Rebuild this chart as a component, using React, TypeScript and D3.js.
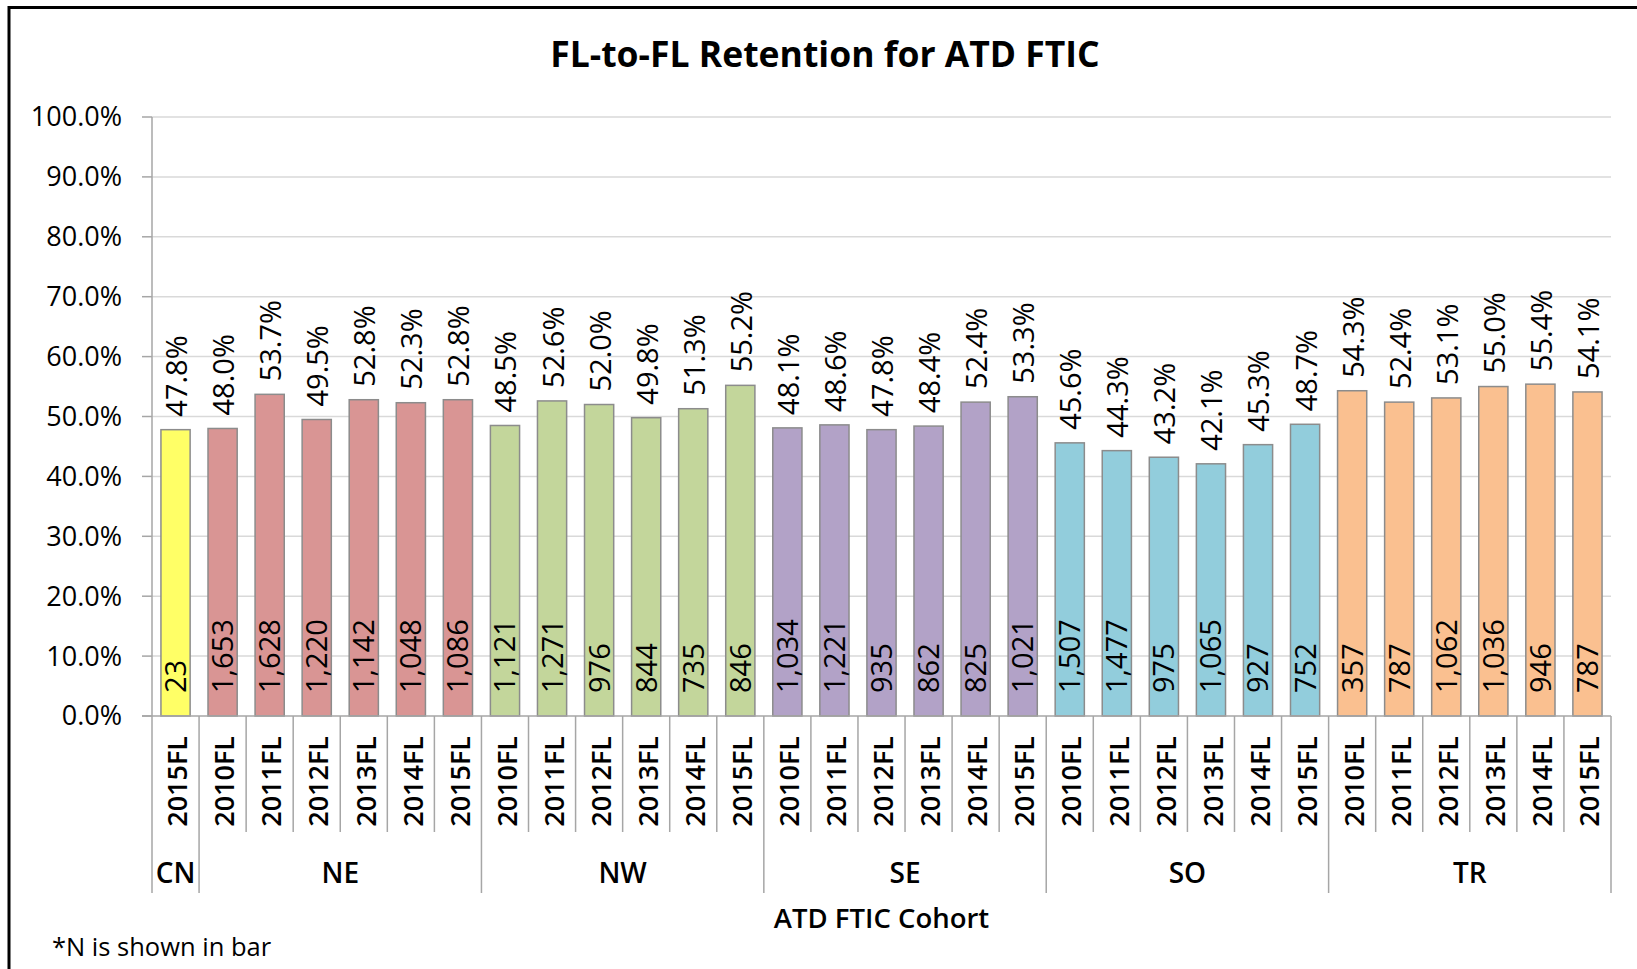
import React from "react";
import * as d3 from "d3";

// campus groups, in axis order
const groups = ["CN", "NE", "NW", "SE", "SO", "TR"];
const groupTerms: string[][] = [
    ["2015FL"],
    ["2010FL", "2011FL", "2012FL", "2013FL", "2014FL", "2015FL"],
    ["2010FL", "2011FL", "2012FL", "2013FL", "2014FL", "2015FL"],
    ["2010FL", "2011FL", "2012FL", "2013FL", "2014FL", "2015FL"],
    ["2010FL", "2011FL", "2012FL", "2013FL", "2014FL", "2015FL"],
    ["2010FL", "2011FL", "2012FL", "2013FL", "2014FL", "2015FL"],
];
// retention rate (%) per group
const retention: number[][] = [
    [47.8],
    [48.0, 53.7, 49.5, 52.8, 52.3, 52.8],
    [48.5, 52.6, 52.0, 49.8, 51.3, 55.2],
    [48.1, 48.6, 47.8, 48.4, 52.4, 53.3],
    [45.6, 44.3, 43.2, 42.1, 45.3, 48.7],
    [54.3, 52.4, 53.1, 55.0, 55.4, 54.1],
];
// cohort size N per group
const cohortN: number[][] = [
    [23],
    [1653, 1628, 1220, 1142, 1048, 1086],
    [1121, 1271, 976, 844, 735, 846],
    [1034, 1221, 935, 862, 825, 1021],
    [1507, 1477, 975, 1065, 927, 752],
    [357, 787, 1062, 1036, 946, 787],
];
const groupColors = ["#FFFF66", "#D99594", "#C3D69B", "#B2A2C7", "#92CDDC", "#FAC090"];
const yTicks = [0, 10, 20, 30, 40, 50, 60, 70, 80, 90, 100];

const FONT = "'Open Sans', 'Noto Sans', sans-serif";

export default function App() {
    const left = 152, right = 1611, top = 117, bottom = 716;

    const rows = groups.flatMap((g, gi) =>
        groupTerms[gi].map((t, ti) => ({
            group: g, gi, term: t,
            value: retention[gi][ti], n: cohortN[gi][ti],
        }))
    );

    const x = d3.scaleBand<number>()
        .domain(rows.map((_, i) => i))
        .range([left, right])
        .paddingInner(0.38)
        .paddingOuter(0.19);
    const y = d3.scaleLinear().domain([0, 100]).range([bottom, top]);
    const step = x.step();
    const catLeft = (i: number) => left + i * step;

    // group boundaries in category index
    const starts: number[] = [];
    let acc = 0;
    groups.forEach((_, gi) => { starts.push(acc); acc += groupTerms[gi].length; });

    const fmtN = d3.format(",");

    return (
        <svg width={1637} height={969} style={{position: "absolute", left: 0, top: 0, display: "block", background: "#fff"}}
             fontFamily={FONT}>
            <rect x={9} y={7.5} width={1700} height={1000} fill="none" stroke="#000" strokeWidth={3}/>
            <text x={825} y={55} textAnchor="middle" dy="0.35em" fontSize={35.5} fontWeight="bold" fill="#000">
                FL-to-FL Retention for ATD FTIC
            </text>

            {/* gridlines + y ticks */}
            {yTicks.map(t => (
                <g key={t}>
                    {t > 0 && <line x1={left} x2={right} y1={y(t)} y2={y(t)} stroke="#D9D9D9" strokeWidth={1.5}/>}
                    <line x1={142} x2={left} y1={y(t)} y2={y(t)} stroke="#A6A6A6" strokeWidth={1.5}/>
                    <text x={122} y={y(t)} dy="0.35em" textAnchor="end" fontSize={27} fill="#000">
                        {t.toFixed(1) + "%"}
                    </text>
                </g>
            ))}
            <line x1={left} x2={left} y1={top} y2={bottom} stroke="#A6A6A6" strokeWidth={1.5}/>

            {/* bars */}
            {rows.map((r, i) => {
                const bx = x(i)!;
                const cx = bx + x.bandwidth() / 2;
                return (
                    <g key={i}>
                        <rect x={bx} y={y(r.value)} width={x.bandwidth()} height={bottom - y(r.value)}
                              fill={groupColors[r.gi]} stroke="#8C8C8C" strokeWidth={1.5}/>
                        <text transform={`translate(${cx + 1},${y(r.value) - 13}) rotate(-90)`} dy="0.36em"
                              fontSize={29} fontWeight={500} fill="#000">{r.value.toFixed(1) + "%"}</text>
                        <text transform={`translate(${cx},${bottom - 23}) rotate(-90)`} dy="0.36em"
                              fontSize={29} fontWeight={500} fill="#000">{fmtN(r.n)}</text>
                        <text transform={`translate(${cx + 2},${736}) rotate(-90)`} dy="0.36em" textAnchor="end"
                              fontSize={27} fontWeight={600} fill="#000">{r.term}</text>
                    </g>
                );
            })}

            {/* x axis line */}
            <line x1={142} x2={right} y1={bottom} y2={bottom} stroke="#A6A6A6" strokeWidth={1.5}/>

            {/* category separators */}
            {rows.map((r, i) => {
                const isGroupStart = starts.includes(i);
                return (
                    <line key={"s" + i} x1={catLeft(i)} x2={catLeft(i)} y1={bottom}
                          y2={isGroupStart ? 893 : 832} stroke="#A6A6A6" strokeWidth={1.5}/>
                );
            })}
            <line x1={right} x2={right} y1={bottom} y2={893} stroke="#A6A6A6" strokeWidth={1.5}/>

            {/* group labels */}
            {groups.map((g, gi) => {
                const gx = catLeft(starts[gi]) + groupTerms[gi].length * step / 2;
                return (
                    <text key={g} x={gx} y={873} dy="0.35em" textAnchor="middle" fontSize={28}
                          fontWeight={600} fill="#000">{g}</text>
                );
            })}

            <text x={(left + right) / 2} y={918} dy="0.35em" textAnchor="middle" fontSize={27.5}
                  fontWeight={600} fill="#000">ATD FTIC Cohort</text>
            <text x={52} y={947} dy="0.35em" fontSize={25.5} fill="#000">*N is shown in bar</text>
        </svg>
    );
}
